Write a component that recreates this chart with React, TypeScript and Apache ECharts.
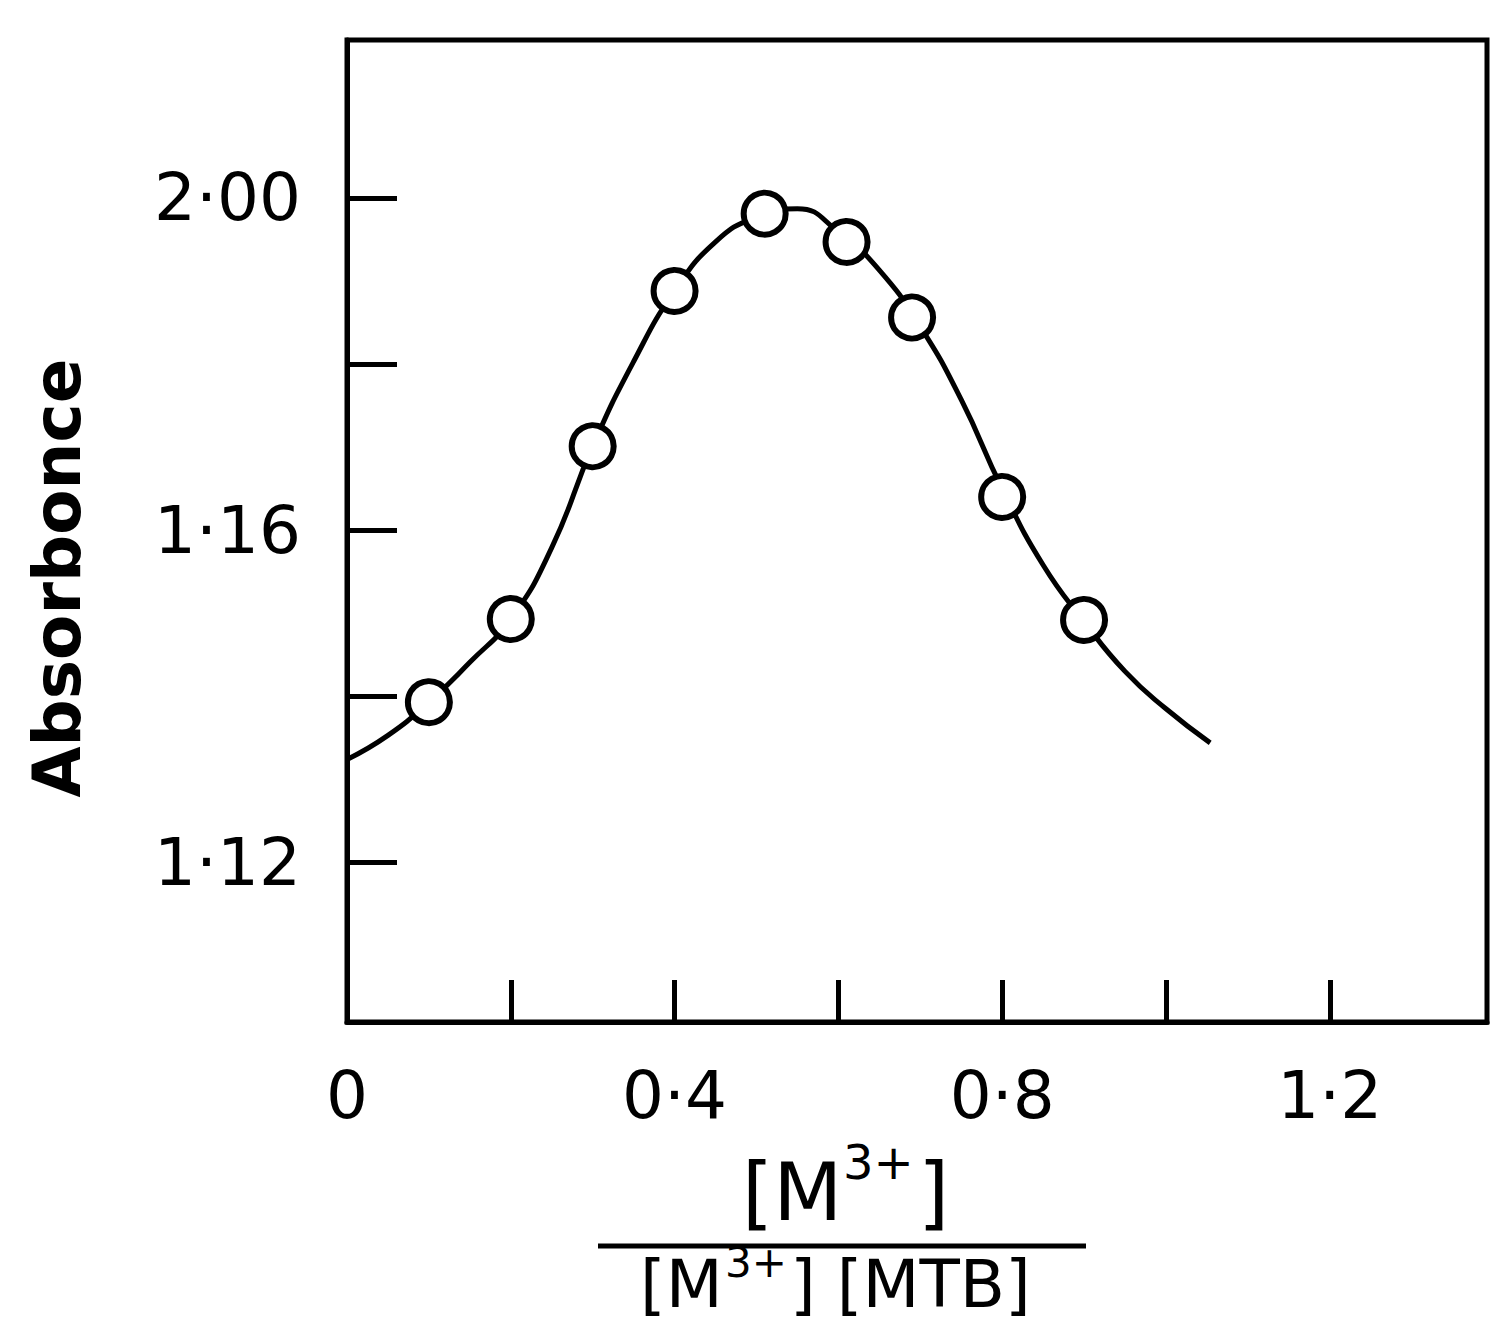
import React, { useEffect, useRef } from "react";
import * as echarts from "echarts";

// Measured points (mole fraction, absorbance on the axis' own linear scale)
const pointX = [0.1, 0.2, 0.3, 0.4, 0.51, 0.61, 0.69, 0.8, 0.9];
const pointY = [1.1393, 1.1493, 1.1701, 1.1888, 1.1981, 1.1947, 1.1856, 1.164, 1.1492];

// Fitted curve
const curveX = [0, 0.05, 0.1, 0.15, 0.2, 0.25, 0.3, 0.35, 0.4, 0.45, 0.5, 0.55, 0.6, 0.65, 0.7, 0.75, 0.8, 0.85, 0.9, 0.95, 1.0, 1.054];
const curveY = [1.1324, 1.1353, 1.1393, 1.1441, 1.1493, 1.1579, 1.1701, 1.1803, 1.1888, 1.1947, 1.1977, 1.1987, 1.1959, 1.1913, 1.1845, 1.1757, 1.165, 1.1558, 1.149, 1.143, 1.1385, 1.1344];

const xTickValues = [0.2, 0.4, 0.6, 0.8, 1.0, 1.2];
const xLabelValues = [0, 0.4, 0.8, 1.2];
const xLabelTexts = ["0", "0·4", "0·8", "1·2"];
const yTickValues = [1.12, 1.14, 1.16, 1.18, 1.2];
const yLabelTexts = ["1·12", "", "1·16", "", "2·00"];

const yTitle = "Absorbonce";

function labelFor(values: number[], texts: string[], v: number) {
  for (let i = 0; i < values.length; i++) {
    if (Math.abs(values[i] - v) < 1e-6) return texts[i];
  }
  return "";
}

export default function App() {
  const ref = useRef<HTMLDivElement>(null);
  useEffect(() => {
    if (!ref.current) return;
    const chart = echarts.init(ref.current, undefined, { renderer: "svg" });
    const tickFont = "DejaVu Sans";
    const bigFont = "DejaVu Sans";
    chart.setOption({
      animation: false,
      backgroundColor: "#fff",
      grid: {
        left: 347,
        top: 40,
        right: 5,
        bottom: 304,
        show: true,
        borderColor: "#000",
        borderWidth: 5,
        backgroundColor: "transparent",
      },
      xAxis: {
        type: "value",
        min: 0,
        max: 1.392,
        axisLine: { show: true, lineStyle: { color: "#000", width: 5 } },
        axisTick: {
          show: true,
          inside: true,
          length: 42,
          customValues: xTickValues,
          lineStyle: { color: "#000", width: 5 },
        },
        axisLabel: {
          show: true,
          customValues: xLabelValues,
          margin: 40,
          color: "#000",
          fontFamily: tickFont,
          fontSize: 66,
          formatter: (v: number) => labelFor(xLabelValues, xLabelTexts, v),
        },
        splitLine: { show: false },
      },
      yAxis: {
        type: "value",
        min: 1.1008,
        max: 1.219,
        axisLine: { show: true, lineStyle: { color: "#000", width: 5 } },
        axisTick: {
          show: true,
          inside: true,
          length: 50,
          customValues: yTickValues,
          lineStyle: { color: "#000", width: 5 },
        },
        axisLabel: {
          show: true,
          customValues: yTickValues,
          margin: 46,
          color: "#000",
          fontFamily: tickFont,
          fontSize: 66,
          formatter: (v: number) => labelFor(yTickValues, yLabelTexts, v),
        },
        splitLine: { show: false },
      },
      series: [
        {
          type: "line",
          data: curveX.map((x, i) => [x, curveY[i]]),
          smooth: 0.5,
          showSymbol: false,
          symbol: "none",
          lineStyle: { color: "#000", width: 5 },
          z: 2,
        },
        {
          type: "scatter",
          data: pointX.map((x, i) => [x, pointY[i]]),
          symbol: "circle",
          symbolSize: 42,
          itemStyle: { color: "#fff", borderColor: "#000", borderWidth: 6, opacity: 1 },
          z: 3,
        },
      ],
      graphic: [
        {
          type: "text",
          x: 57,
          y: 578,
          rotation: Math.PI / 2,
          style: {
            text: yTitle,
            fontFamily: tickFont,
            fontWeight: "bold",
            fontSize: 66,
            fill: "#000",
            align: "center",
            verticalAlign: "middle",
          },
        },
        // numerator
        { type: "text", x: 742, y: 1192, style: { text: "[M", fontFamily: bigFont, fontSize: 80, fill: "#000", align: "left", verticalAlign: "middle" } },
        { type: "text", x: 843, y: 1162, style: { text: "3+", fontFamily: bigFont, fontSize: 48, fill: "#000", align: "left", verticalAlign: "middle" } },
        { type: "text", x: 918, y: 1192, style: { text: "]", fontFamily: bigFont, fontSize: 80, fill: "#000", align: "left", verticalAlign: "middle" } },
        // fraction bar
        { type: "line", shape: { x1: 598, y1: 1246, x2: 1086, y2: 1246 }, style: { stroke: "#000", lineWidth: 5 } },
        // denominator
        { type: "text", x: 640, y: 1284, style: { text: "[M", fontFamily: bigFont, fontSize: 66, fill: "#000", align: "left", verticalAlign: "middle" } },
        { type: "text", x: 725, y: 1262, style: { text: "3+", fontFamily: bigFont, fontSize: 42, fill: "#000", align: "left", verticalAlign: "middle" } },
        { type: "text", x: 790, y: 1284, style: { text: "] [MTB]", fontFamily: bigFont, fontSize: 66, fill: "#000", align: "left", verticalAlign: "middle" } },
      ],
    });
    return () => chart.dispose();
  }, []);
  return (
    <div
      ref={ref}
      style={{ position: "absolute", left: 0, top: 0, width: 1492, height: 1326, background: "#fff" }}
    />
  );
}
